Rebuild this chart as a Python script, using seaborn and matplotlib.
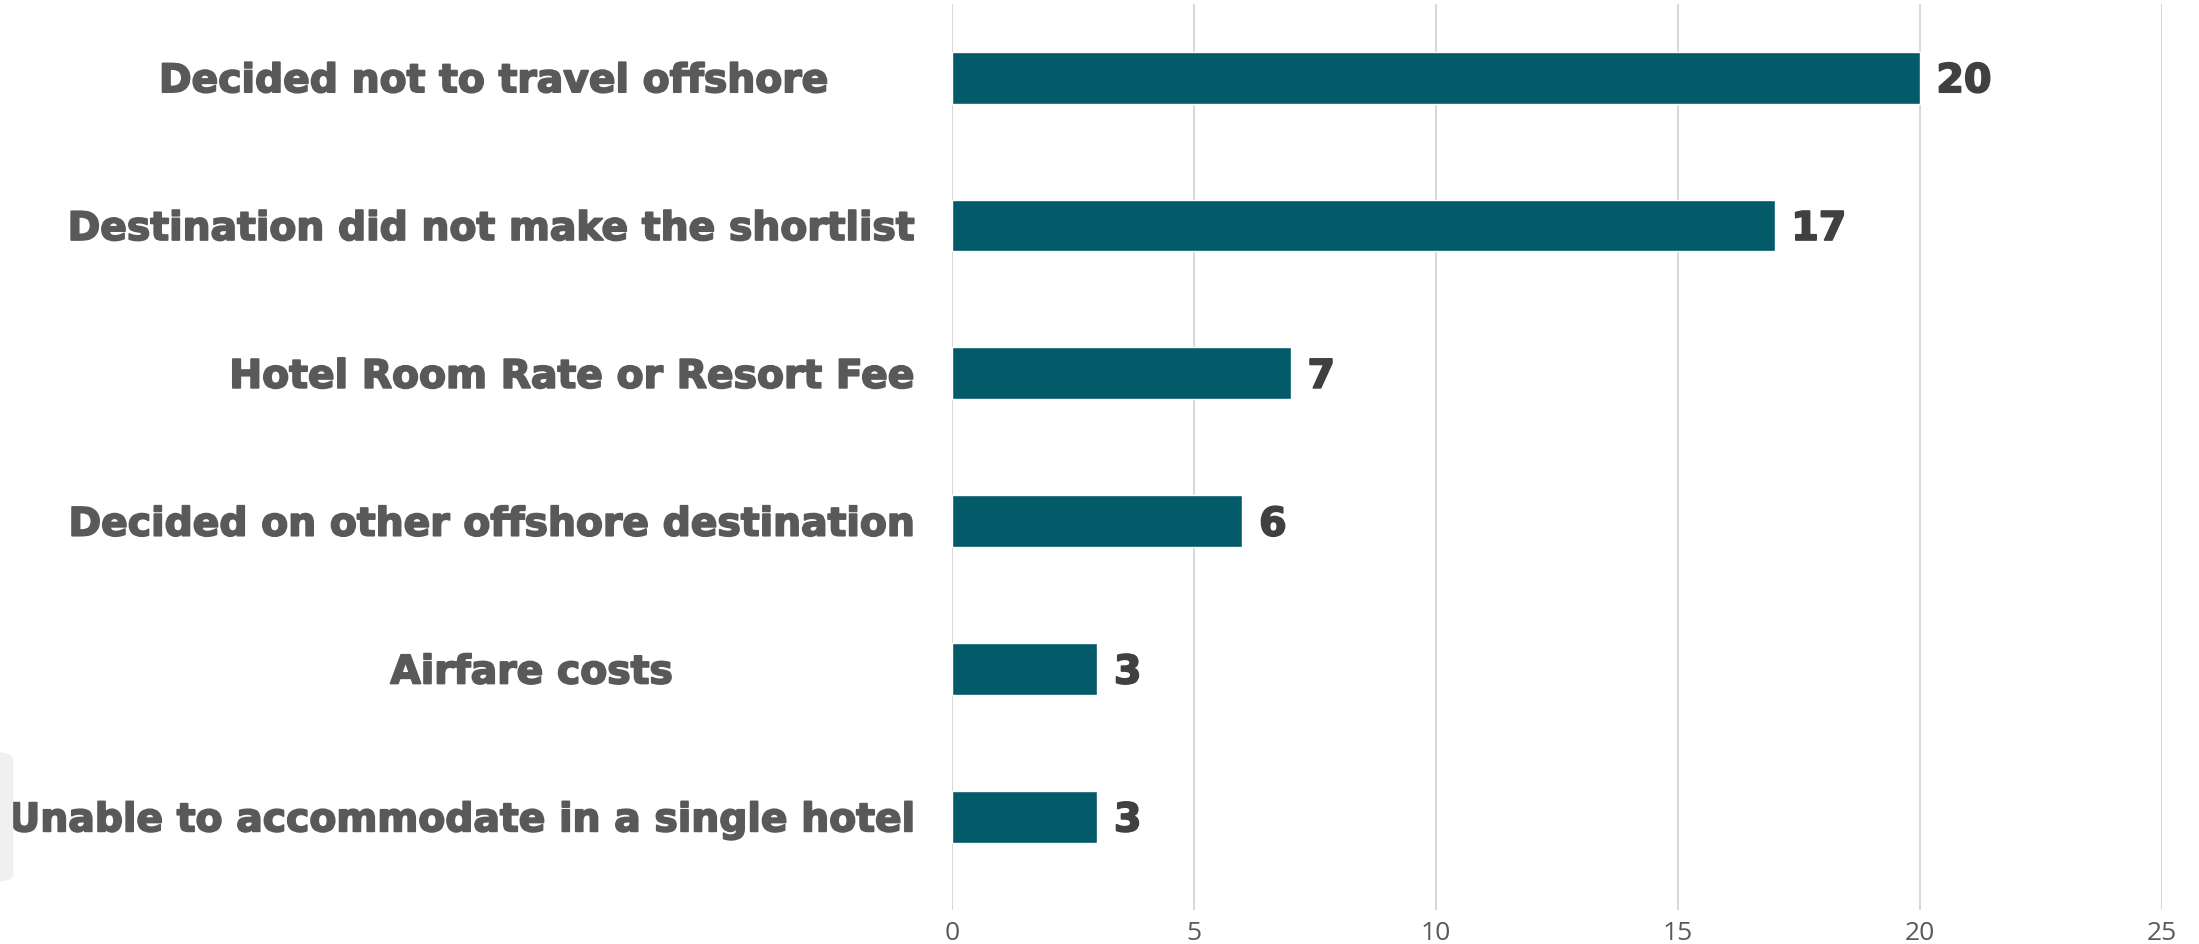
import matplotlib
matplotlib.use("Agg")
import matplotlib.pyplot as plt
import matplotlib.transforms as mtransforms
import matplotlib.patheffects as pe
from matplotlib.patches import FancyBboxPatch
import seaborn as sns
import pandas as pd

# Data
reasons = [
    "Decided not to travel offshore",
    "Destination did not make the shortlist",
    "Hotel Room Rate or Resort Fee",
    "Decided on other offshore destination",
    "Airfare costs",
    "Unable to accommodate in a single hotel",
]
counts = [20, 17, 7, 6, 3, 3]
x_ticks = [0, 5, 10, 15, 20, 25]

df = pd.DataFrame({"reason": reasons, "count": counts})

sns.set_theme(style="white")
plt.rcParams["font.family"] = ["DejaVu Sans"]

fig = plt.figure(figsize=(21.99, 9.45), dpi=100)
ax = fig.add_axes([0.433, 0.036, 0.550, 0.959])

sns.barplot(
    data=df,
    x="count",
    y="reason",
    color="#035A69",
    width=0.35,
    saturation=1,
    ax=ax,
    zorder=3,
)

ax.set_xlim(0, 25)
ax.set_ylim(5.63, -0.5)
ax.set_xticks(x_ticks)
ax.set_xticklabels([str(t) for t in x_ticks], fontsize=19, color="#595959",
                   family=["Open Sans", "DejaVu Sans"])
ax.tick_params(axis="x", length=0, pad=7)
ax.tick_params(axis="y", length=0)
ax.set_yticklabels([])
ax.set_xlabel("")
ax.set_ylabel("")
ax.grid(axis="x", color="#d9d9d9", linewidth=1.5, zorder=0)
for s in ax.spines.values():
    s.set_visible(False)

heavy = [pe.withStroke(linewidth=1.3, foreground="#595959")]
heavy_val = [pe.withStroke(linewidth=1.3, foreground="#404040")]

# category labels (two of them sit centred, like the original)
trans = mtransforms.blended_transform_factory(ax.transAxes, ax.transData)
label_pos = {0: (-0.380, "center"), 4: (-0.348, "center")}
for i, name in enumerate(reasons):
    xpos, ha = label_pos.get(i, (-0.033, "right"))
    ax.annotate(name, (xpos, i), xycoords=trans, xytext=(0, -2.5),
                textcoords="offset points", ha=ha, va="center",
                fontsize=28.3, fontweight="bold", color="#595959",
                path_effects=heavy)

# value labels
for i, v in enumerate(counts):
    ax.annotate(str(v), (v, i), xytext=(12, -2.5), textcoords="offset points",
                ha="left", va="center", fontsize=28.5, fontweight="bold",
                color="#404040", path_effects=heavy_val)

# faint shape on the left edge of the original slide
fig.patches.append(FancyBboxPatch((-0.01, 0.066), 0.016, 0.137,
                                  boxstyle="round,pad=0,rounding_size=0.008",
                                  transform=fig.transFigure, facecolor="#f0f0f0",
                                  edgecolor="none", zorder=0))

fig.savefig("out.png", dpi=100, facecolor="white")
